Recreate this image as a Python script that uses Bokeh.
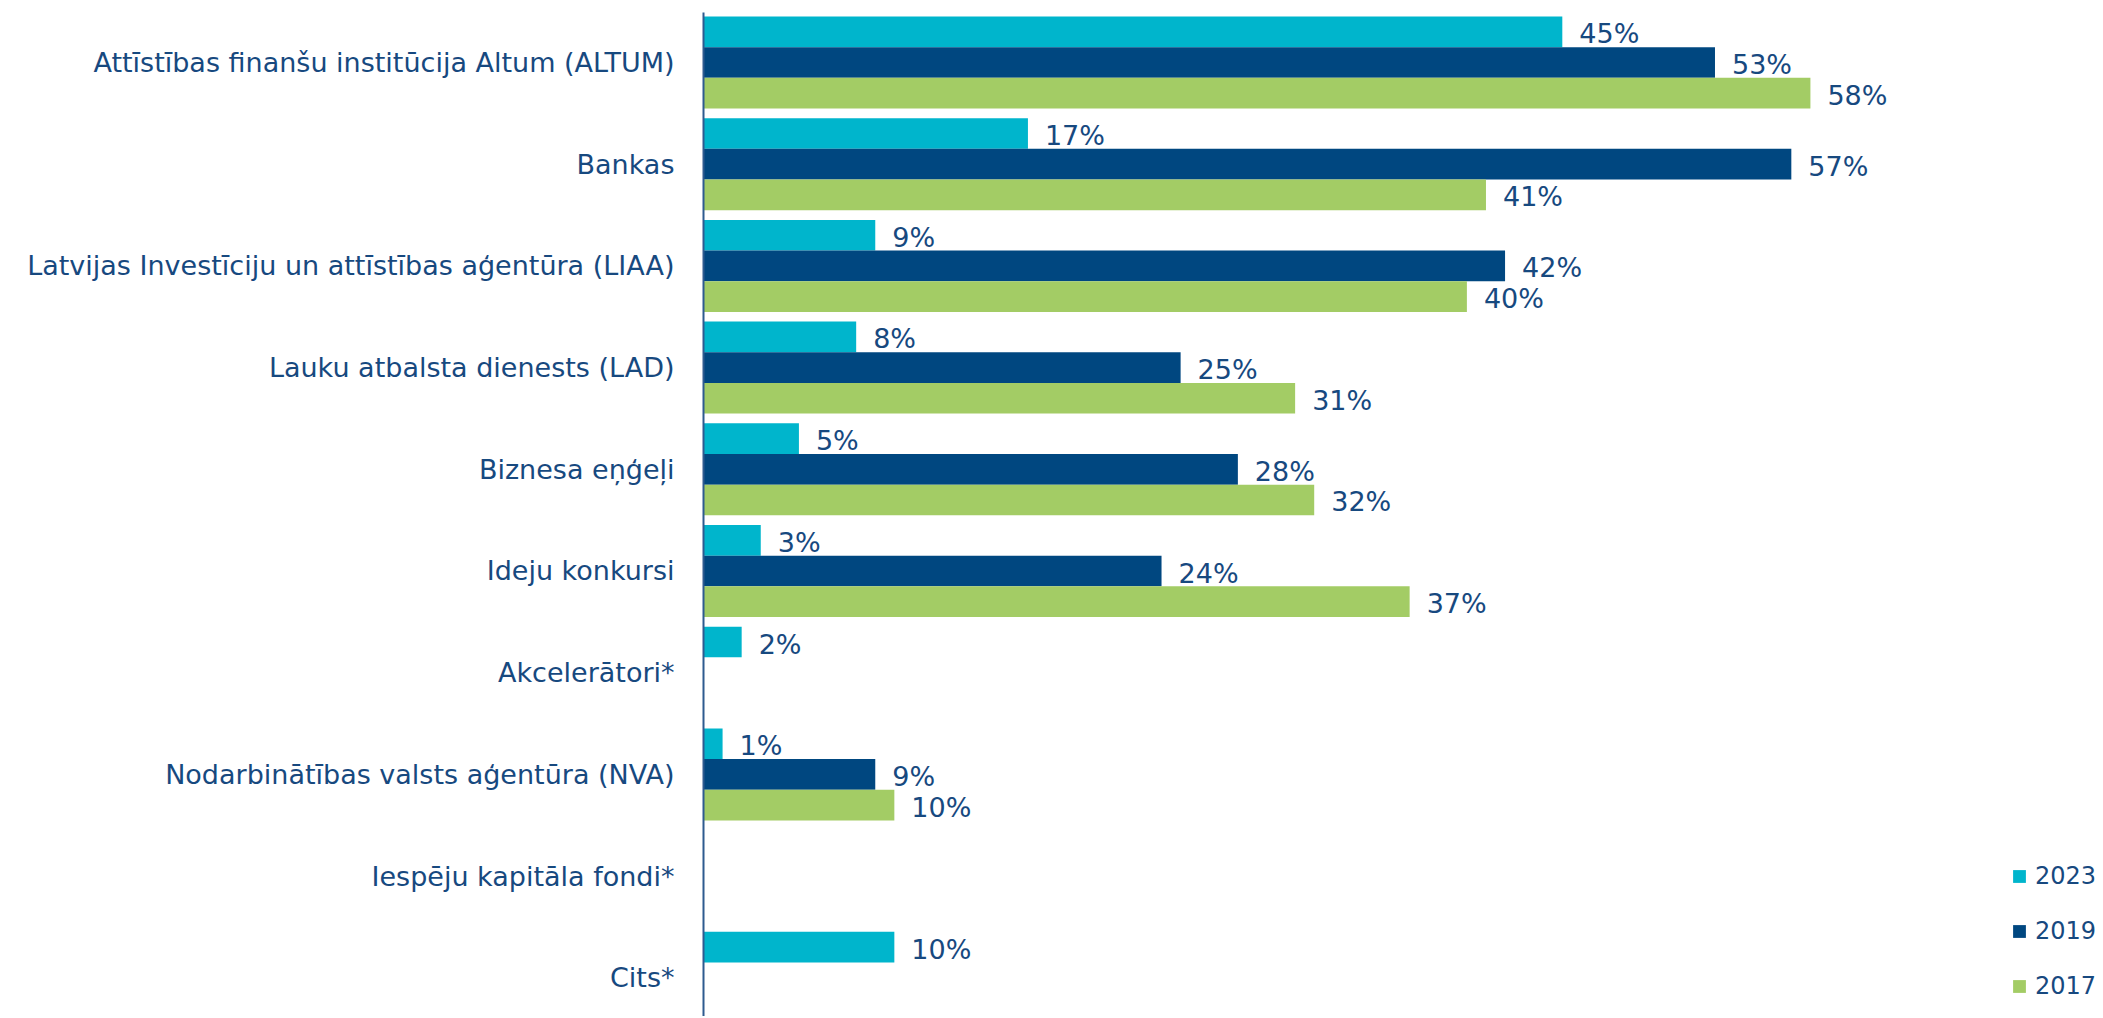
from bokeh.plotting import figure
from bokeh.models import ColumnDataSource, Range1d, FixedTicker, Legend, LegendItem
from bokeh.transform import dodge
from bokeh.core.properties import value
from bokeh.embed import file_html
from bokeh.resources import INLINE
import numpy as np

categories = [
    "Attīstības finanšu institūcija Altum (ALTUM)",
    "Bankas",
    "Latvijas Investīciju un attīstības aģentūra (LIAA)",
    "Lauku atbalsta dienests (LAD)",
    "Biznesa eņģeļi",
    "Ideju konkursi",
    "Akcelerātori*",
    "Nodarbinātības valsts aģentūra (NVA)",
    "Iespēju kapitāla fondi*",
    "Cits*",
]
series_names = ["2023", "2019", "2017"]
v2023 = [45, 17, 9, 8, 5, 3, 2, 1, None, 10]
v2019 = [53, 57, 42, 25, 28, 24, None, 9, None, None]
v2017 = [58, 41, 40, 31, 32, 37, None, 10, None, None]

colors = ["#00B5CC", "#004780", "#A3CC65"]
text_color = "#17497F"
FONT = "DejaVu Sans"

idx = list(range(len(categories)))

p = figure(
    width=2100, height=1016,
    x_range=Range1d(0, 73.2),
    y_range=Range1d(9.3805, -0.4916),
    output_backend="svg", toolbar_location=None,
    min_border_left=703, min_border_right=0, min_border_top=12, min_border_bottom=0,
    outline_line_color=None,
)

bar_h = 0.3015
offsets = [-bar_h, 0.0, bar_h]
renderers = []
for name, vals, col, off in zip(series_names, [v2023, v2019, v2017], colors, offsets):
    xs = [np.nan if v is None else v for v in vals]
    labels = ["" if v is None else f"{v}%" for v in vals]
    src = ColumnDataSource(dict(y=idx, x=xs, lab=labels))
    r = p.hbar(y=dodge("y", off, range=p.y_range), right="x", left=0, height=bar_h,
               source=src, fill_color=col, line_color=None)
    renderers.append(r)
    p.text(x="x", y=dodge("y", off + 0.02, range=p.y_range), text="lab", source=src,
           x_offset=17, text_baseline="middle", text_align="left",
           text_font=value(FONT), text_font_size="27px", text_color=text_color)

p.xaxis.visible = False
p.xgrid.visible = False
p.ygrid.visible = False

ya = p.yaxis[0]
ya.ticker = FixedTicker(ticks=idx)
ya.major_label_overrides = {i: c for i, c in zip(idx, categories)}
ya.major_tick_line_color = None
ya.minor_tick_line_color = None
ya.major_tick_out = 0
ya.major_tick_in = 0
ya.major_label_standoff = 29
ya.axis_line_color = "#2E5B8F"
ya.axis_line_width = 2
ya.major_label_text_font = FONT
ya.major_label_text_font_size = "27px"
ya.major_label_text_color = text_color

legend = Legend(
    items=[LegendItem(label=n, renderers=[r]) for n, r in zip(series_names, renderers)],
    location=(1308, 13),
    glyph_width=16, glyph_height=16, label_standoff=8, label_width=62,
    label_height=34, spacing=21, padding=0, margin=0,
    border_line_color=None, background_fill_alpha=0,
    label_text_font=FONT, label_text_font_size="24px", label_text_color=text_color,
)
p.add_layout(legend, "center")

open("out.html", "w").write(file_html(p, INLINE))
